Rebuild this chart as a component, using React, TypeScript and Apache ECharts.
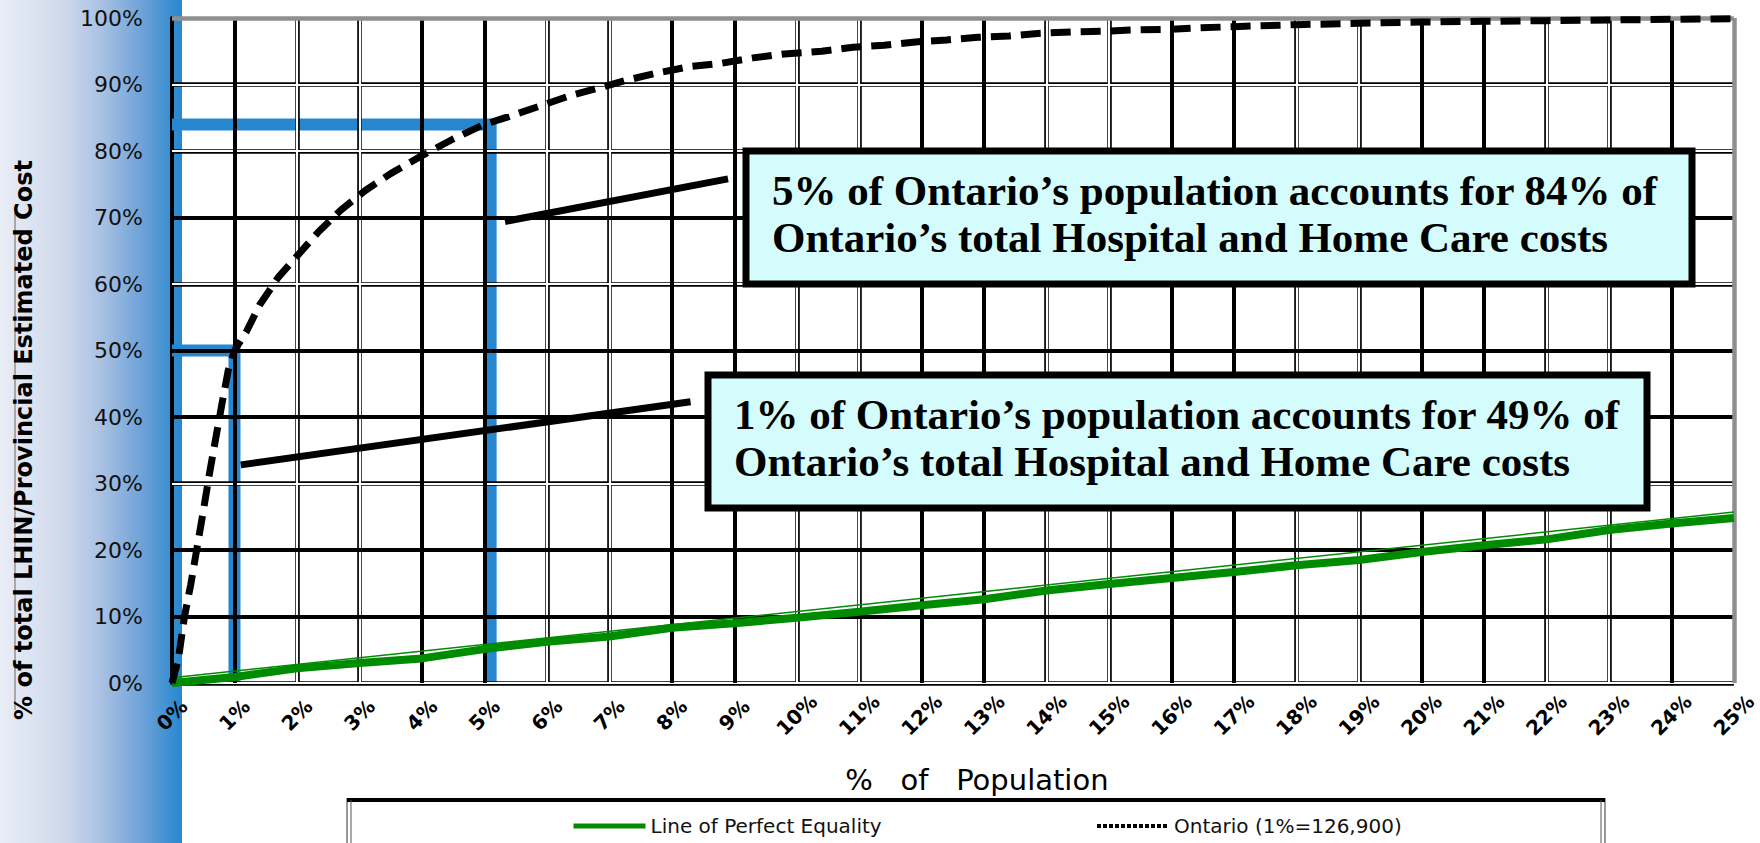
import React, { useEffect, useRef } from "react";
import * as echarts from "echarts";

// ---- data ----
const ontarioCurve: [number, number][] = [
  [0, 0], [0.1, 3.5], [0.2, 10], [0.3, 14.8], [0.4, 20.3], [0.5, 25.8], [0.6, 31.5],
  [0.7, 36.8], [0.8, 42], [0.9, 47], [1, 50], [1.2, 53], [1.4, 56.8], [1.7, 61],
  [2, 64.2], [2.35, 67.9], [2.7, 71.1], [3.1, 74.1], [3.5, 76.6], [4, 79.3], [4.5, 81.8],
  [5, 84], [5.4, 85.2], [5.9, 86.8], [6.4, 88.4], [6.8, 89.4], [7.3, 90.7], [7.8, 91.8],
  [8.3, 92.7], [8.8, 93.2], [9.3, 94], [9.8, 94.6], [10.4, 95], [10.9, 95.6], [11.4, 95.9],
  [11.9, 96.4], [12.4, 96.7], [12.9, 97.1], [13.4, 97.3], [13.9, 97.7], [14.4, 97.9],
  [14.9, 98], [15.4, 98.2], [16, 98.3], [16.4, 98.5], [17, 98.7], [18, 99], [19, 99.2],
  [20, 99.4], [21, 99.5], [22, 99.6], [23, 99.7], [24, 99.8], [25, 99.9],
];
const equalityLine: [number, number][] = [
  [0, 0], [1, 0.9], [2, 2.2], [3, 3.0], [4, 3.7], [5, 5.1], [6, 6.2], [7, 7.0], [8, 8.3],
  [9, 9.0], [10, 9.8], [11, 10.7], [12, 11.7], [13, 12.6], [14, 13.9], [15, 14.9],
  [16, 15.8], [17, 16.7], [18, 17.7], [19, 18.5], [20, 19.7], [21, 20.7], [22, 21.6],
  [23, 23.0], [24, 24.0], [25, 24.8],
];
const equalityReference: [number, number][] = [[0, 0.8], [25, 25.7]];
const highlight84: [number, number][] = [[0, 84], [5.1, 84], [5.1, 0]];
const highlight50: [number, number][] = [[0, 50], [1, 50], [1, 0]];
const thickGridX = [1, 4, 5, 8, 9, 12, 13, 16, 17, 20, 21, 24];
const doubleGridX = [2, 3, 6, 7, 10, 11, 14, 15, 18, 19, 22, 23];
const thickGridY = [10, 20, 40, 50, 70];
const doubleGridY = [0, 30, 60, 80, 90];
const borderGridX = [25];
const borderGridY = [100];
const leader84: [number, number][] = [[5.33, 69.4], [8.9, 75.8]];
const leader49: [number, number][] = [[1.1, 32.8], [8.3, 42.3]];
const annotation84 = [
  "5% of Ontario’s population accounts for 84% of",
  "Ontario’s total Hospital and Home Care costs",
];
const annotation49 = [
  "1% of Ontario’s population accounts for 49% of",
  "Ontario’s total Hospital and Home Care costs",
];
const seriesNames = ["Line of Perfect Equality", "Ontario (1%=126,900)"];
const xAxisTitle = "%   of   Population";
const yAxisTitle = "% of total LHIN/Provincial Estimated Cost";

const gridLines = (xs: number[], ys: number[], color: string, width: number, z: number) => ({
  type: "line",
  data: [[0, 0]],
  showSymbol: false,
  symbol: "none",
  silent: true,
  z,
  lineStyle: { opacity: 0 },
  markLine: {
    silent: true,
    symbol: ["none", "none"],
    label: { show: false },
    lineStyle: { color, width, type: "solid" },
    emphasis: { disabled: true },
    data: [...xs.map((v) => ({ xAxis: v })), ...ys.map((v) => ({ yAxis: v }))],
  },
});

export default function App() {
  const ref = useRef<HTMLDivElement>(null);
  useEffect(() => {
    if (!ref.current) return;
    const chart = echarts.init(ref.current, undefined, { renderer: "svg" });
    const box = (x: number, y: number, w: number, h: number, lines: string[], z: number) => [
      {
        type: "rect",
        z,
        shape: { x, y, width: w, height: h },
        style: { fill: "#d4fcfc", stroke: "#000", lineWidth: 7 },
      },
      {
        type: "text",
        z: z + 1,
        x: x + 26,
        y: y + h / 2 - 4,
        style: {
          text: lines.join("\n"),
          font: 'bold 43px "Liberation Serif", "Times New Roman", serif',
          fill: "#000",
          lineHeight: 47,
          align: "left",
          verticalAlign: "middle",
        },
      },
    ];
    const legendText = { fontFamily: "DejaVu Sans", fontSize: 20, color: "#111" };
    chart.setOption({
      animation: false,
      backgroundColor: "#ffffff",
      grid: { left: 172, right: 15, top: 18, bottom: 160, containLabel: false },
      xAxis: {
        type: "value",
        min: 0,
        max: 25,
        interval: 1,
        name: xAxisTitle,
        nameLocation: "middle",
        nameGap: 82,
        nameTextStyle: {
          fontFamily: "DejaVu Sans",
          fontSize: 29,
          color: "#000",
          padding: [0, 0, 0, 48],
        },
        axisLine: { show: false },
        axisTick: { show: false },
        splitLine: { show: false },
        axisLabel: {
          formatter: "{value}%",
          rotate: 45,
          align: "center",
          verticalAlign: "middle",
          margin: 32,
          fontFamily: "DejaVu Sans",
          fontWeight: "bold",
          fontSize: 20,
          color: "#000",
        },
      },
      yAxis: {
        type: "value",
        min: 0,
        max: 100,
        interval: 10,
        axisLine: { show: true, lineStyle: { color: "#000", width: 4 } },
        axisTick: { show: false },
        splitLine: { show: false },
        axisLabel: {
          formatter: "{value}%",
          margin: 29,
          fontFamily: "DejaVu Sans",
          fontSize: 22,
          color: "#111",
        },
      },
      legend: [
        {
          data: [seriesNames[0]],
          left: 566,
          top: 811,
          itemWidth: 72,
          itemHeight: 14,
          textStyle: legendText,
          lineStyle: { width: 5 },
          itemStyle: { opacity: 0 },
          z: 20,
        },
        {
          data: [seriesNames[1]],
          left: 1090,
          top: 811,
          itemWidth: 72,
          itemHeight: 14,
          textStyle: legendText,
          lineStyle: { width: 4, type: [4, 2] },
          itemStyle: { opacity: 0 },
          z: 20,
        },
      ],
      graphic: [
        {
          type: "rect",
          z: -10,
          shape: { x: 0, y: 0, width: 182, height: 843 },
          style: {
            fill: new echarts.graphic.LinearGradient(0, 0, 1, 0, [
              { offset: 0, color: "#e9edf6" },
              { offset: 0.35, color: "#cfd9ec" },
              { offset: 0.55, color: "#abc2e3" },
              { offset: 0.78, color: "#6ea2d8" },
              { offset: 1, color: "#2687cf" },
            ]),
          },
        },
        {
          type: "line",
          z: -5,
          shape: { x1: 15, y1: 213, x2: 15, y2: 710 },
          style: { stroke: "#a8a8a8", lineWidth: 2 },
        },
        {
          type: "text",
          z: 5,
          x: 24,
          y: 440,
          rotation: Math.PI / 2,
          style: {
            text: yAxisTitle,
            font: 'bold 24px "DejaVu Sans"',
            fill: "#000",
            align: "center",
            verticalAlign: "middle",
          },
        },
        {
          type: "rect",
          z: -5,
          shape: { x: 347, y: 799, width: 1258, height: 60 },
          style: { fill: "#fff", stroke: "#777", lineWidth: 1.5 },
        },
        {
          type: "line",
          z: -4,
          shape: { x1: 347, y1: 800, x2: 1605, y2: 800 },
          style: { stroke: "#000", lineWidth: 4 },
        },
        {
          type: "line",
          z: -4,
          shape: { x1: 351, y1: 800, x2: 351, y2: 843 },
          style: { stroke: "#555", lineWidth: 1 },
        },
        {
          type: "line",
          z: -4,
          shape: { x1: 1601, y1: 800, x2: 1601, y2: 843 },
          style: { stroke: "#555", lineWidth: 1 },
        },
        ...box(746, 151, 946, 133, annotation84, 50),
        ...box(708, 375, 939, 133, annotation49, 50),
      ],
      series: [
        gridLines(doubleGridX, doubleGridY, "#000", 4.6, 1),
        gridLines(doubleGridX, doubleGridY, "#fff", 2.2, 2),
        gridLines(thickGridX, thickGridY, "#000", 4, 3),
        gridLines(borderGridX, borderGridY, "#8f8f8f", 4.5, 3),
        {
          type: "line",
          data: highlight84,
          showSymbol: false,
          symbol: "none",
          z: 4,
          silent: true,
          lineStyle: { color: "#2687cf", width: 12, join: "miter" },
        },
        {
          type: "line",
          data: highlight50,
          showSymbol: false,
          symbol: "none",
          z: 4,
          silent: true,
          lineStyle: { color: "#2687cf", width: 12, join: "miter" },
        },
        {
          type: "line",
          data: equalityReference,
          showSymbol: false,
          symbol: "none",
          z: 5,
          silent: true,
          lineStyle: { color: "#008c00", width: 1.5 },
        },
        {
          name: seriesNames[0],
          type: "line",
          data: equalityLine,
          showSymbol: false,
          symbol: "none",
          z: 6,
          color: "#008c00",
          lineStyle: { color: "#008c00", width: 8 },
        },
        {
          name: seriesNames[1],
          type: "line",
          data: ontarioCurve,
          showSymbol: false,
          symbol: "none",
          smooth: false,
          z: 7,
          color: "#000",
          lineStyle: { color: "#000", width: 7, type: [20, 10] },
        },
        {
          type: "line",
          data: [[0, 0]],
          showSymbol: false,
          symbol: "none",
          silent: true,
          z: 8,
          lineStyle: { opacity: 0 },
          markLine: {
            silent: true,
            symbol: ["none", "none"],
            label: { show: false },
            lineStyle: { color: "#000", width: 7, type: "solid" },
            data: [
              [{ coord: leader84[0] }, { coord: leader84[1] }],
              [{ coord: leader49[0] }, { coord: leader49[1] }],
            ],
          },
        },
      ],
    });
    return () => chart.dispose();
  }, []);
  return (
    <div
      ref={ref}
      style={{ position: "fixed", left: 0, top: 0, width: 1760, height: 843 }}
    />
  );
}
